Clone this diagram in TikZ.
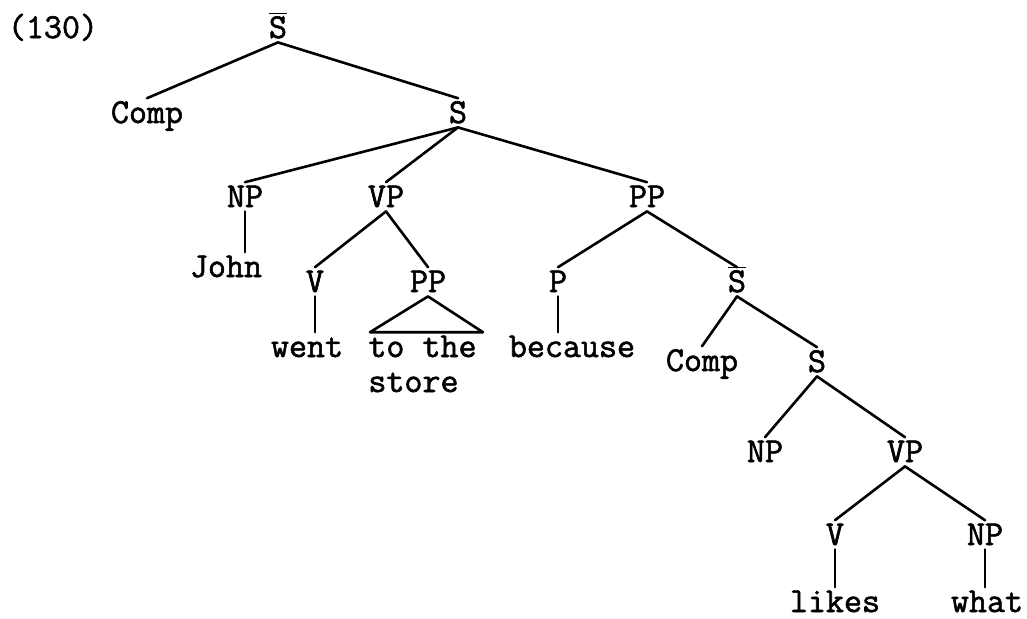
\documentclass[tikz,border=0pt]{standalone}
\usepackage{fontspec}
\setmonofont{Latin Modern Mono}[FakeBold=1.7]
\newcommand{\barS}{\ensuremath{\overline{\mbox{S}}}}
\tikzset{
  cat/.style={anchor=base, inner xsep=1pt, inner ysep=2pt, text height=10.2pt, text depth=0pt},
  word/.style={cat},
  branch/.style={line width=1.3pt, line cap=round, line join=round}
}
\begin{document}
\begin{tikzpicture}[x=0.5pt,y=-0.5pt,font=\ttfamily\fontsize{17.5}{19.5}\selectfont]
\useasboundingbox (0,0) rectangle (1027,618);
\node[anchor=base] (num) at (53,38) {(130)};
% top level
\node[cat] (sbarA) at (278,38) {\barS};
\node[cat] (compA) at (147,123) {Comp};
\node[cat] (sA) at (458,123) {S};
\node[cat] (npA) at (245,207) {NP};
\node[cat] (vpA) at (386,207) {VP};
\node[cat] (ppA) at (647,207) {PP};
\node[word] (john) at (226,277) {John};
\node[cat] (vA) at (315,292) {V};
\node[cat] (ppB) at (428,292) {PP};
\node[cat] (pA) at (558,292) {P};
\node[cat] (sbarB) at (737,292) {\barS};
\node[word] (went) at (307,357) {went};
\node[word,anchor=base west,inner xsep=0pt] (tothe) at (368,357) {to the};
\node[word,anchor=base west,inner xsep=0pt] (store) at (368,392) {store};
\node[word] (because) at (572,357) {because};
% embedded clause
\node[cat] (compB) at (702,371) {Comp};
\node[cat] (sB) at (817,372) {S};
\node[cat] (npB) at (765,462) {NP};
\node[cat] (vpB) at (905,462) {VP};
\node[cat] (vB) at (835,545) {V};
\node[cat] (npC) at (985,545) {NP};
\node[word] (likes) at (835,612) {likes};
\node[word] (what) at (987,612) {what};
% branches
\draw[branch] (sbarA.south) -- (compA.north);
\draw[branch] (sbarA.south) -- (sA.north);
\foreach \kid in {npA,vpA,ppA}
  \draw[branch] (sA.south) -- (\kid.north);
\draw[branch] (npA.south) -- (npA.south |- john.north);
\draw[branch] (vpA.south) -- (vA.north);
\draw[branch] (vpA.south) -- (ppB.north);
\draw[branch] (vA.south) -- (vA.south |- went.north);
\draw[branch] (ppB.south) -- ([xshift=1pt]tothe.north west) -- ([xshift=3pt]tothe.north east) -- cycle;
\draw[branch] (ppA.south) -- (pA.north);
\draw[branch] (ppA.south) -- (sbarB.north);
\draw[branch] (pA.south) -- (pA.south |- because.north);
\draw[branch] (sbarB.south) -- (compB.north);
\draw[branch] (sbarB.south) -- (sB.north);
\draw[branch] (sB.south) -- (npB.north);
\draw[branch] (sB.south) -- (vpB.north);
\draw[branch] (vpB.south) -- (vB.north);
\draw[branch] (vpB.south) -- (npC.north);
\draw[branch] (vB.south) -- (vB.south |- likes.north);
\draw[branch] (npC.south) -- (npC.south |- what.north);
\end{tikzpicture}
\end{document}
